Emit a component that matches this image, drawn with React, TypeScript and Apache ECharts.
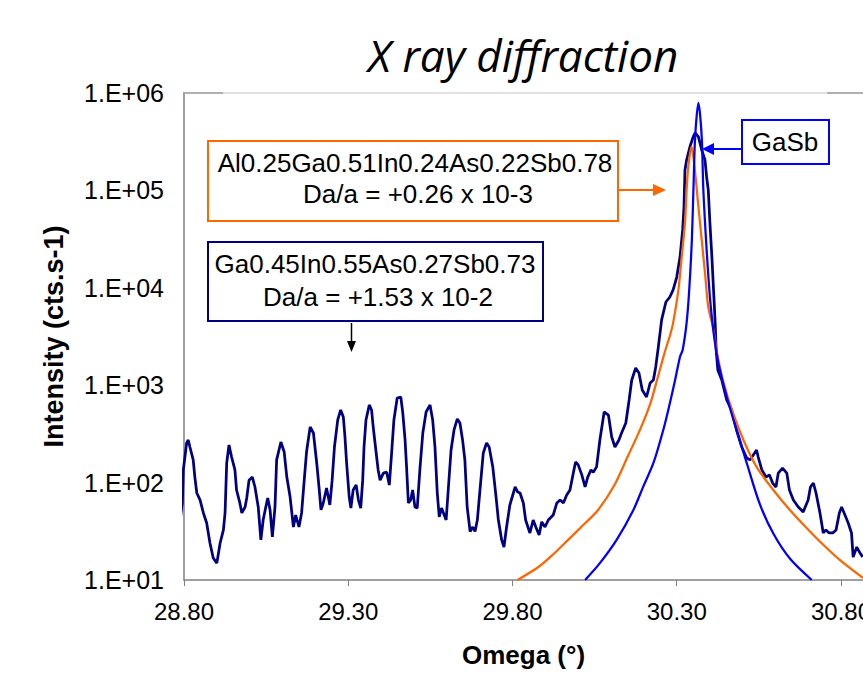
import React, { useEffect, useRef } from "react";
import * as echarts from "echarts";

// Measured XRD scan (dark navy)
const measuredOmega = [
  28.783, 28.785, 28.791, 28.795, 28.798, 28.808, 28.813, 28.818, 28.828, 28.833,
  28.839, 28.849, 28.859, 28.869, 28.879, 28.889, 28.9, 28.91, 28.92, 28.925,
  28.93, 28.937, 28.945, 28.955, 28.96, 28.97, 28.976, 28.986, 28.991, 28.998,
  29.008, 29.016, 29.026, 29.034, 29.041, 29.049, 29.055, 29.062, 29.069, 29.077,
  29.082, 29.095, 29.105, 29.113, 29.123, 29.133, 29.14, 29.15, 29.158, 29.166,
  29.173, 29.184, 29.194, 29.204, 29.211, 29.217, 29.224, 29.234, 29.244, 29.251,
  29.258, 29.268, 29.277, 29.285, 29.29, 29.295, 29.303, 29.308, 29.315, 29.324,
  29.331, 29.338, 29.344, 29.348, 29.354, 29.364, 29.371, 29.376, 29.384, 29.391,
  29.397, 29.407, 29.417, 29.425, 29.432, 29.439, 29.449, 29.46, 29.466, 29.473,
  29.478, 29.483, 29.49, 29.496, 29.503, 29.51, 29.518, 29.527, 29.537, 29.549,
  29.557, 29.564, 29.571, 29.577, 29.584, 29.598, 29.605, 29.613, 29.622, 29.632,
  29.64, 29.648, 29.655, 29.662, 29.671, 29.679, 29.686, 29.693, 29.701, 29.711,
  29.721, 29.729, 29.74, 29.75, 29.757, 29.767, 29.774, 29.782, 29.792, 29.808,
  29.816, 29.823, 29.833, 29.84, 29.853, 29.863, 29.871, 29.881, 29.889, 29.899,
  29.909, 29.924, 29.935, 29.945, 29.955, 29.965, 29.975, 29.985, 29.992, 30.0,
  30.011, 30.021, 30.029, 30.039, 30.046, 30.056, 30.066, 30.079, 30.092, 30.102,
  30.112, 30.124, 30.132, 30.145, 30.155, 30.163, 30.175, 30.185, 30.195, 30.208,
  30.219, 30.229, 30.236, 30.244, 30.254, 30.267, 30.279, 30.289, 30.3, 30.31,
  30.318, 30.322, 30.325, 30.33, 30.34, 30.35, 30.356, 30.366, 30.376, 30.386,
  30.391, 30.396, 30.401, 30.407, 30.412, 30.417, 30.42, 30.425, 30.437, 30.452,
  30.467, 30.482, 30.498, 30.513, 30.523, 30.533, 30.543, 30.548, 30.559, 30.572,
  30.582, 30.592, 30.602, 30.609, 30.622, 30.635, 30.643, 30.655, 30.67, 30.685,
  30.7, 30.707, 30.716, 30.724, 30.736, 30.746, 30.754, 30.764, 30.775, 30.785,
  30.795, 30.802, 30.812, 30.822, 30.832, 30.837, 30.848, 30.858, 30.866,
];
const measuredIntensity = [
  41.3, 29.0, 48.8, 61.8, 135, 255, 274, 232, 171, 114,
  78.2, 66.2, 48.8, 38.5, 24.0, 16.8, 14.9, 24.0, 32.7, 48.8,
  159, 243, 183, 135, 83.9, 61.8, 48.8, 56.2, 69.5, 106,
  114, 90.1, 56.2, 25.8, 41.3, 56.2, 69.5, 52.4, 27.7, 56.2,
  171, 261, 206, 114, 71.1, 35.0, 46.5, 35.0, 48.8, 106,
  206, 372, 323, 159, 90.1, 52.4, 61.8, 87.9, 58.9, 106,
  232, 440, 557, 472, 294, 159, 71.1, 54.8, 83.9, 94.4,
  66.2, 54.8, 106, 232, 440, 627, 557, 372, 216, 135,
  106, 125, 128, 94.4, 201, 440, 739, 757, 519, 274,
  135, 61.8, 66.2, 83.9, 56.2, 54.8, 135, 323, 531, 627,
  440, 232, 78.2, 44.4, 54.8, 41.3, 90.1, 216, 347, 450,
  409, 274, 171, 56.2, 31.5, 35.0, 31.5, 41.3, 83.9, 201,
  255, 232, 145, 71.1, 41.3, 25.8, 21.8, 35.0, 58.9, 90.1,
  80.0, 78.2, 61.8, 41.3, 30.4, 41.3, 35.0, 29.0, 39.5, 35.0,
  41.3, 46.5, 61.8, 66.2, 61.8, 74.6, 83.9, 125, 163, 152,
  120, 90.1, 114, 135, 128, 145, 274, 531, 494, 294,
  232, 274, 323, 409, 705, 1132, 1503, 1337, 893, 757,
  1054, 1132, 1541, 2472, 4690, 7145, 8050, 9510, 12900, 20700,
  39300, 67600, 162000, 205000, 279000, 354000, 389000, 354000, 260000, 205000,
  137000, 101000, 46300, 20700, 9510, 4365, 2301, 1435, 1132, 705,
  557, 347, 232, 179, 171, 192, 216, 183, 135, 114,
  120, 99.0, 90.1, 125, 141, 125, 83.9, 66.2, 56.2, 50.0,
  66.2, 90.1, 99.0, 78.2, 48.8, 30.4, 32.7, 30.4, 30.4, 32.7,
  48.8, 56.2, 46.5, 38.5, 30.4, 17.2, 21.8, 18.9, 17.2,
];

// Simulated AlGaInAsSb layer (orange)
const alloyOmega = [
  29.815, 29.879, 29.925, 29.97, 30.02, 30.06, 30.11, 30.15, 30.19, 30.22,
  30.24, 30.262, 30.28, 30.289, 30.305, 30.315, 30.325, 30.33, 30.335, 30.345,
  30.356, 30.366, 30.376, 30.386, 30.396, 30.412, 30.422, 30.443, 30.468, 30.503,
  30.543, 30.594, 30.645, 30.696, 30.746, 30.797, 30.867,
];
const alloyIntensity = [
  10, 13.6, 18.5, 26, 38, 52, 94, 183, 360, 655,
  1130, 2100, 3300, 4365, 9510, 20700, 46300, 101000, 174000, 281000,
  151000, 67600, 31000, 14200, 6380, 3700, 2200, 1054, 557, 274,
  145, 84, 52, 34, 23, 16, 10.5,
];

// Simulated GaSb substrate (blue)
const gasbOmega = [
  30.021, 30.066, 30.117, 30.168, 30.198, 30.229, 30.259, 30.279, 30.295, 30.31,
  30.318, 30.33, 30.338, 30.346, 30.351, 30.356, 30.366, 30.376, 30.381, 30.391,
  30.401, 30.41, 30.418, 30.428, 30.452, 30.482, 30.513, 30.553, 30.594, 30.645,
  30.711,
];
const gasbIntensity = [
  10, 14.9, 25.8, 52.4, 91, 159, 347, 652, 1130, 1960,
  2300, 4370, 9510, 31000, 108000, 354000, 790000, 354000, 101000, 24500,
  8050, 4000, 2500, 1600, 760, 347, 159, 60, 30, 16.5,
  10,
];

const xTickInterval = 0.5;
const xMin = 28.8;
const xMax = 30.867;
const yMin = 10;
const yMax = 1000000;

const zip = (xs: number[], ys: number[]) => xs.map((x, i) => [x, ys[i]]);

const FONT = "'Liberation Sans', Arial, sans-serif";

export default function App() {
  const ref = useRef<HTMLDivElement>(null);
  useEffect(() => {
    if (!ref.current) return;
    const chart = echarts.init(ref.current, undefined, { renderer: "svg" });
    const txt = (text: string, x: number, y: number, size = 26) => ({
      type: "text",
      x,
      y,
      z: 101,
      style: {
        text,
        fontSize: size,
        fontFamily: FONT,
        fill: "#000",
        textAlign: "center",
        textVerticalAlign: "middle",
        align: "center",
        verticalAlign: "middle",
      },
    });
    chart.setOption({
      animation: false,
      backgroundColor: "#ffffff",
      title: {
        text: "X ray diffraction",
        left: 363,
        top: 28,
        textStyle: {
          fontFamily: "'Open Sans', sans-serif",
          fontStyle: "italic",
          fontWeight: "normal",
          fontSize: 44,
          color: "#000",
        },
      },
      grid: {
        left: 184,
        top: 93,
        width: 679,
        height: 487,
        show: false,
        containLabel: false,
        outerBoundsMode: "none",
      },
      xAxis: {
        type: "value",
        min: xMin,
        max: xMax,
        interval: xTickInterval,
        axisLine: { onZero: false, lineStyle: { color: "#808080", width: 1.5 } },
        axisTick: { show: true, length: 6, lineStyle: { color: "#808080" } },
        axisLabel: {
          formatter: (v: number) => v.toFixed(2),
          fontSize: 24,
          fontFamily: FONT,
          color: "#000",
          margin: 19,
          showMaxLabel: false,
          hideOverlap: false,
        },
        splitLine: { show: false },
        name: "Omega (°)",
        nameLocation: "middle",
        nameGap: 62,
        nameTextStyle: { fontWeight: "bold", fontSize: 26, fontFamily: FONT, color: "#000" },
      },
      yAxis: {
        type: "log",
        logBase: 10,
        min: yMin,
        max: yMax,
        axisLine: { show: true, lineStyle: { color: "#808080", width: 1.5 } },
        axisTick: { show: false },
        axisLabel: {
          formatter: (v: number) => "1.E+" + String(Math.round(Math.log10(v))).padStart(2, "0"),
          fontSize: 25,
          fontFamily: FONT,
          color: "#000",
          margin: 20,
        },
        splitLine: { show: false },
        name: "Intensity (cts.s-1)",
        nameLocation: "middle",
        nameGap: 117,
        nameTextStyle: { fontWeight: "bold", fontSize: 27, fontFamily: FONT, color: "#000" },
      },
      series: [
        {
          type: "line",
          name: "Measured",
          data: zip(measuredOmega, measuredIntensity),
          showSymbol: false,
          clip: false,
          lineStyle: { color: "#000080", width: 2.75 },
          itemStyle: { color: "#000080" },
        },
        {
          type: "line",
          name: "AlGaInAsSb",
          data: zip(alloyOmega, alloyIntensity),
          showSymbol: false,
          smooth: 0.3,
          lineStyle: { color: "#FF6600", width: 2.25 },
          itemStyle: { color: "#FF6600" },
        },
        {
          type: "line",
          name: "GaSb",
          data: zip(gasbOmega, gasbIntensity),
          showSymbol: false,
          smooth: 0.3,
          lineStyle: { color: "#0000FF", width: 2.25 },
          itemStyle: { color: "#0000FF" },
        },
      ],
      graphic: [
        { type: "line", z: 100, shape: { x1: 183, y1: 93, x2: 863, y2: 93 }, style: { stroke: "#d9d9d9", lineWidth: 1.5 } },
        { type: "line", z: 100, shape: { x1: 183, y1: 93, x2: 223, y2: 93 }, style: { stroke: "#808080", lineWidth: 1 } },
        { type: "line", z: 100, shape: { x1: 827, y1: 93, x2: 863, y2: 93 }, style: { stroke: "#808080", lineWidth: 1 } },
        // orange box
        { type: "rect", z: 100, shape: { x: 208, y: 141, width: 410, height: 80 }, style: { fill: "#fff", stroke: "#FF6600", lineWidth: 2 } },
        txt("Al0.25Ga0.51In0.24As0.22Sb0.78", 415, 163),
        txt("Da/a = +0.26 x 10-3", 418, 194),
        { type: "line", z: 100, shape: { x1: 618, y1: 190, x2: 655, y2: 190 }, style: { stroke: "#FF6600", lineWidth: 2 } },
        { type: "polygon", z: 100, shape: { points: [[653, 184], [666, 190], [653, 196]] }, style: { fill: "#FF6600" } },
        // navy box
        { type: "rect", z: 100, shape: { x: 208, y: 242, width: 335, height: 79 }, style: { fill: "#fff", stroke: "#000080", lineWidth: 2 } },
        txt("Ga0.45In0.55As0.27Sb0.73", 375, 264),
        txt("Da/a = +1.53 x 10-2", 378, 297),
        { type: "line", z: 100, shape: { x1: 351.5, y1: 323, x2: 351.5, y2: 343 }, style: { stroke: "#000", lineWidth: 1.5 } },
        { type: "polygon", z: 100, shape: { points: [[347, 341], [351.5, 352], [356, 341]] }, style: { fill: "#000" } },
        // GaSb box
        { type: "rect", z: 100, shape: { x: 742, y: 120, width: 87, height: 44 }, style: { fill: "#fff", stroke: "#0000FF", lineWidth: 2 } },
        txt("GaSb", 785, 142),
        { type: "line", z: 100, shape: { x1: 742, y1: 149, x2: 711, y2: 149 }, style: { stroke: "#0000FF", lineWidth: 2 } },
        { type: "polygon", z: 100, shape: { points: [[714, 143], [702, 149], [714, 155]] }, style: { fill: "#0000FF" } },
      ],
    });
    return () => chart.dispose();
  }, []);
  return (
    <div
      ref={ref}
      style={{ position: "fixed", left: 0, top: 0, width: 863, height: 673, background: "#fff" }}
    />
  );
}
